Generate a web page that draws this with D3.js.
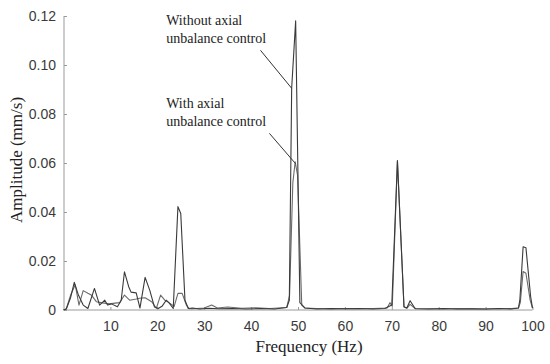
<!DOCTYPE html>
<html>
<head>
<meta charset="utf-8">
<script src="https://cdn.jsdelivr.net/npm/d3@7"></script>
<style>
  body { margin: 0; background: #fff; }
  svg { display: block; }
  .axis path, .axis line { stroke: #9a9a9a; }
  .axis text { font-family: "Liberation Sans", Arial, sans-serif; font-size: 14px; fill: #3a3a3a; }
  .title { font-family: "Liberation Serif", "Times New Roman", serif; font-size: 17px; fill: #222; }
  .note { font-family: "Liberation Serif", "Times New Roman", serif; font-size: 14px; fill: #222; }
</style>
</head>
<body>
<svg></svg>
<script>
// spectrum, frequency in Hz, amplitude in mm/s
const withoutFreq = [0, 0.6, 1.5, 2.3, 3.2, 4.2, 5.2, 6.6, 7.7, 8.8, 9.4, 10.2, 11.5, 12.3, 13.0, 13.9, 14.4, 15.5, 16.3, 17.4, 18.4, 19.4, 20.2, 21.0, 21.9, 22.6, 23.4, 24.4, 25.0, 25.9, 26.6, 27.5, 29, 31, 33, 36, 39, 42, 45, 47.6, 48.15, 48.65, 49.5, 50.4, 51.5, 54, 57, 60, 63, 66, 68.5, 70.0, 71.2, 72.6, 73.2, 73.9, 75.0, 78, 81, 84, 87, 90, 93, 95.5, 97.0, 97.3, 98.0, 98.6, 99.6, 100]
const withoutAmp = [0, 0.0004, 0.005, 0.0113, 0.006, 0.002, 0.0006, 0.0088, 0.002, 0.004, 0.002, 0.0025, 0.0013, 0.004, 0.0156, 0.0095, 0.0073, 0.007, 0.0008, 0.0133, 0.008, 0.0012, 0.0006, 0.0015, 0.004, 0.0027, 0.0006, 0.0422, 0.0394, 0.004, 0.0006, 0.0008, 0.0004, 0.0007, 0.0005, 0.0006, 0.0004, 0.0006, 0.0004, 0.001, 0.004, 0.0905, 0.118, 0.003, 0.0008, 0.0004, 0.0006, 0.0005, 0.0006, 0.0004, 0.0006, 0.002, 0.061, 0.0013, 0.0008, 0.0038, 0.0005, 0.0004, 0.0006, 0.0004, 0.0005, 0.0004, 0.0006, 0.0004, 0.0008, 0.004, 0.0258, 0.0254, 0.0055, 0.0008]

const withFreq = [0, 0.6, 1.5, 2.5, 3.3, 4.2, 5.2, 6.0, 7.0, 8.0, 9.8, 11.0, 12.0, 13.0, 14.1, 15.5, 16.2, 17.4, 18.8, 19.8, 20.7, 21.6, 22.2, 23.6, 24.4, 25.3, 26.2, 26.8, 27.5, 30, 31.6, 32.8, 35, 38, 41, 44, 47.6, 48.2, 48.9, 49.4, 49.9, 50.8, 51.5, 54, 57, 60, 63, 66, 69.0, 69.6, 70.1, 71.2, 72.6, 73.2, 73.9, 75.0, 78, 81, 84, 87, 90, 93, 95.5, 97.0, 97.4, 98.0, 98.6, 99.5, 100]
const withAmp = [0, 0.0005, 0.006, 0.0103, 0.002, 0.0079, 0.0068, 0.006, 0.0034, 0.003, 0.0025, 0.0028, 0.003, 0.0061, 0.004, 0.0045, 0.0048, 0.005, 0.0034, 0.0007, 0.0061, 0.004, 0.0034, 0.0015, 0.0068, 0.0068, 0.002, 0.0005, 0.0005, 0.0008, 0.002, 0.0008, 0.0012, 0.0007, 0.0009, 0.0006, 0.001, 0.006, 0.052, 0.0605, 0.055, 0.002, 0.0008, 0.0006, 0.0004, 0.0006, 0.0005, 0.0006, 0.0008, 0.003, 0.0015, 0.0608, 0.0012, 0.0007, 0.0023, 0.0006, 0.0005, 0.0004, 0.0006, 0.0005, 0.0004, 0.0005, 0.0006, 0.0008, 0.003, 0.0157, 0.015, 0.004, 0.0008]

const freqTicks = [10, 20, 30, 40, 50, 60, 70, 80, 90, 100]
const ampTicks = [0, 0.02, 0.04, 0.06, 0.08, 0.1, 0.12]

// label text, where it sits and the point on the curve its leader points at
const notes = [
  { lines: ["Without axial", "unbalance control"], f: 21.9, a: 0.1165, from: [42.0, 0.106], to: [48.65, 0.0905] },
  { lines: ["With axial", "unbalance control"], f: 21.9, a: 0.0826, from: [43.9, 0.0721], to: [49.5, 0.0597] }
]

const svg = d3.select("svg")
  .attr("width", 550)
  .attr("height", 364)

const xScale = d3.scaleLinear()
  .domain([0, 100])
  .range([63.5, 532.5])

const yScale = d3.scaleLinear()
  .domain([0, 0.12])
  .range([310, 16])

const yAxis = d3.axisLeft(yScale)
  .tickValues(ampTicks)
  .tickSizeInner(-3)
  .tickSizeOuter(0)
  .tickPadding(8)
  .tickFormat(d => d === 0 ? "0" : d3.format(".2f")(d))

const xAxis = d3.axisBottom(xScale)
  .tickValues(freqTicks)
  .tickSizeInner(-3)
  .tickSizeOuter(0)
  .tickPadding(11)

svg.append("g")
  .attr("class", "axis")
  .attr("transform", "translate(64, 0)")
  .call(yAxis)
  .call(g => g.select(".domain").attr("d", `M0,${yScale(0.12)}V${yScale(0)}`))

svg.append("g")
  .attr("class", "axis")
  .attr("transform", `translate(0, ${yScale(0)})`)
  .call(xAxis)
  .call(g => g.select(".domain").attr("d", `M64,0H${xScale(100)}`))

const line = d3.line()
  .x(d => xScale(d[0]))
  .y(d => yScale(d[1]))

const series = [
  { name: "with", pts: d3.zip(withFreq, withAmp), color: "#6a6a6a" },
  { name: "without", pts: d3.zip(withoutFreq, withoutAmp), color: "#3a3a3a" }
]

svg.append("g")
  .selectAll("path")
  .data(series)
  .enter()
  .append("path")
  .attr("fill", "none")
  .attr("stroke", d => d.color)
  .attr("stroke-width", 1.1)
  .attr("stroke-linejoin", "round")
  .attr("d", d => line(d.pts))

const noteG = svg.append("g")

notes.forEach(n => {
  const t = noteG.append("text")
    .attr("class", "note")
    .attr("x", xScale(n.f))
    .attr("y", yScale(n.a))
  n.lines.forEach((s, i) => {
    t.append("tspan")
      .attr("x", xScale(n.f))
      .attr("dy", i === 0 ? 0 : 18)
      .text(s)
  })
  noteG.append("line")
    .attr("x1", xScale(n.from[0]))
    .attr("y1", yScale(n.from[1]))
    .attr("x2", xScale(n.to[0]))
    .attr("y2", yScale(n.to[1]))
    .attr("stroke", "#333")
    .attr("stroke-width", 1)
})

svg.append("text")
  .attr("class", "title")
  .attr("text-anchor", "middle")
  .attr("x", 309)
  .attr("y", 352)
  .text("Frequency (Hz)")

svg.append("text")
  .attr("class", "title")
  .attr("text-anchor", "middle")
  .attr("transform", "translate(22, 160) rotate(-90)")
  .text("Amplitude (mm/s)")
</script>
</body>
</html>
